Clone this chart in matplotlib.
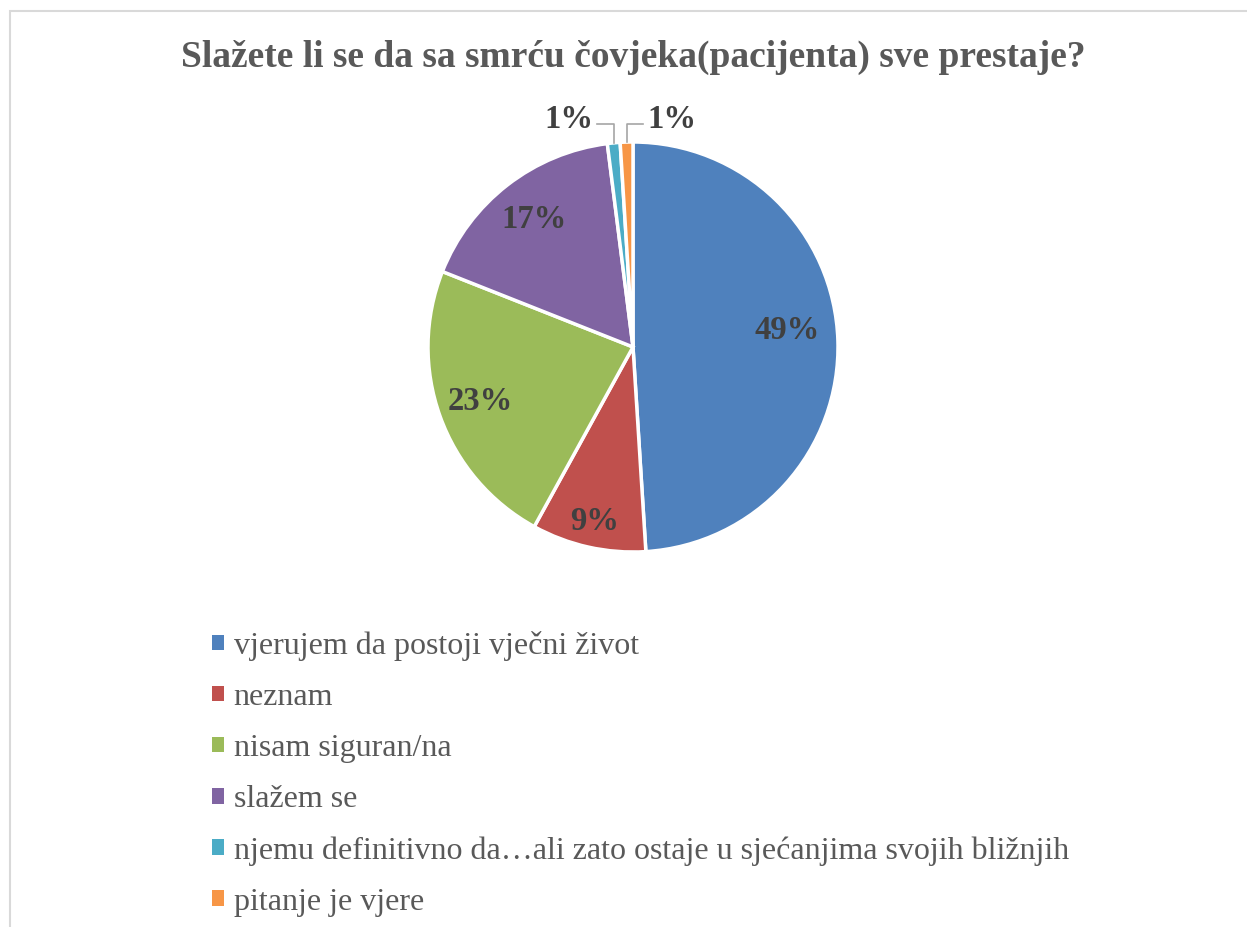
import matplotlib
matplotlib.use("Agg")
import matplotlib.pyplot as plt
from matplotlib.patches import Rectangle
import numpy as np

TITLE = "Slažete li se da sa smrću čovjeka(pacijenta) sve prestaje?"
categories = [
    "vjerujem da postoji vječni život",
    "neznam",
    "nisam siguran/na",
    "slažem se",
    "njemu definitivno da…ali zato ostaje u sjećanjima svojih bližnjih",
    "pitanje je vjere",
]
values = [49, 9, 23, 17, 1, 1]
colors = ["#4f81bd", "#c0504d", "#9bbb59", "#8064a2", "#4bacc6", "#f79646"]

plt.rcParams["font.family"] = ["Liberation Serif", "DejaVu Serif"]

W, H = 1247, 927
fig = plt.figure(figsize=(W / 100, H / 100), dpi=100)

# light grey chart frame (right/bottom run off the picture)
fig.patches.append(Rectangle((10 / W, -0.1), 1.5, 1 - 11 / H + 0.1,
                             transform=fig.transFigure, fill=False,
                             edgecolor="#d9d9d9", linewidth=1.5))

fig.text(633 / W, 1 - 57 / H, TITLE, ha="center", va="center",
         fontsize=27, fontweight="bold", color="#595959")

cx, cy, r = 633, 347, 205
ax = fig.add_axes([(cx - r) / W, (H - cy - r) / H, 2 * r / W, 2 * r / H])
total = sum(values)
wedges, texts, autotexts = ax.pie(
    values, colors=colors, startangle=90, counterclock=False,
    autopct=lambda p: f"{p:.0f}%", pctdistance=0.79,
    wedgeprops=dict(edgecolor="white", linewidth=2.5),
    textprops=dict(fontsize=23.5, fontweight="bold", color="#404040"),
)
ax.set_xlim(-1, 1)
ax.set_ylim(-1, 1)
ax.set_aspect("auto")
ax.axis("off")

# small slices: labels outside with leader lines
for i, w in enumerate(wedges):
    ang = np.deg2rad((w.theta1 + w.theta2) / 2)
    if values[i] / total >= 0.03:
        if values[i] == 9:
            autotexts[i].set_position((0.87 * np.cos(ang), 0.87 * np.sin(ang)))
        elif values[i] == 49:
            # Excel's best-fit placement sits a bit higher here
            autotexts[i].set_position((0.75, 0.08))
        continue
    autotexts[i].set_visible(False)
    x0, y0 = np.cos(ang), np.sin(ang)
    side = -1 if x0 < -0.05 else 1
    x1 = x0 + side * 0.08
    ax.plot([x0, x0, x1], [y0, 1.09, 1.09], color="#a6a6a6", lw=1.2,
            clip_on=False)
    ax.text(x1 + side * 0.02, 1.11, autotexts[i].get_text(),
            ha="right" if side < 0 else "left", va="center",
            fontsize=23.5, fontweight="bold", color="#404040")

leg = fig.legend(wedges, categories, loc="upper left",
                 bbox_to_anchor=(196 / W, 1 - 615 / H), frameon=False,
                 fontsize=23, handlelength=0.38, handleheight=0.38,
                 handletextpad=0.3, labelspacing=0.69, borderpad=0)
for t in leg.get_texts():
    t.set_color("#595959")
for h in leg.legend_handles:
    h.set_edgecolor("none")

fig.savefig("out.png", dpi=100)
